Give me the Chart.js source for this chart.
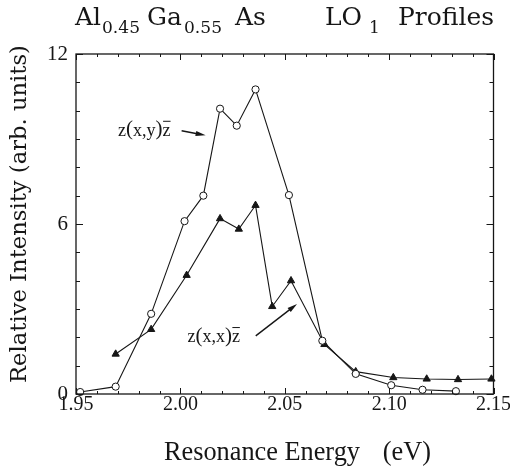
<!DOCTYPE html>
<html>
<head>
<meta charset="utf-8">
<script src="https://cdn.jsdelivr.net/npm/chart.js@4/dist/chart.umd.min.js"></script>
<style>
  html, body { margin: 0; padding: 0; background: #fff; }
  #wrap { width: 510px; height: 467px; }
</style>
</head>
<body>
<div id="wrap"><canvas id="c" width="510" height="467"></canvas></div>
<script>
// Resonance profiles of the LO1 phonon in Al0.45Ga0.55As
const xyEnergy    = [1.952, 1.969, 1.986, 2.002, 2.011, 2.019, 2.027, 2.036, 2.052, 2.068, 2.084, 2.101, 2.116, 2.132];
const xyIntensity = [0.07, 0.26, 2.83, 6.10, 7.00, 10.07, 9.47, 10.75, 7.02, 1.88, 0.71, 0.31, 0.15, 0.10];

const xxEnergy    = [1.969, 1.986, 2.003, 2.019, 2.028, 2.036, 2.044, 2.053, 2.069, 2.084, 2.102, 2.118, 2.133, 2.149];
const xxIntensity = [1.41, 2.28, 4.19, 6.19, 5.82, 6.66, 3.09, 4.00, 1.75, 0.79, 0.58, 0.53, 0.51, 0.53];

const xRange = [1.95, 2.15];
const yRange = [0, 12];
const xMajorStep = 0.05, xMinorStep = 0.01;
const yMajorStep = 6, yMinorStep = 1;

const INK = '#161616';
const SLAB = '"DejaVu Serif", serif';
const ROMAN = '"Liberation Serif", serif';
const toPoints = (xs, ys) => xs.map((x, i) => ({ x: x, y: ys[i] }));

// font size (px) at which a string spans the given width
function fitSize(ctx, text, family, width) {
  ctx.font = '20px ' + family;
  return 20 * width / ctx.measureText(text).width;
}
const fontOf = (size, family) => size.toFixed(2) + 'px ' + family;

// Frame, inward ticks on all four sides, titles and annotations
const decorations = {
  id: 'decorations',
  afterDraw(chart) {
    const ctx = chart.ctx;
    const a = chart.chartArea;
    const xs = chart.scales.x, ys = chart.scales.y;
    ctx.save();
    ctx.strokeStyle = INK;
    ctx.fillStyle = INK;

    // frame
    ctx.lineWidth = 1.3;
    ctx.strokeRect(a.left, a.top, a.right - a.left, a.bottom - a.top);

    // x ticks
    ctx.lineWidth = 1;
    const nx = Math.round((xRange[1] - xRange[0]) / xMinorStep);
    for (let i = 0; i <= nx; i++) {
      const v = xRange[0] + i * xMinorStep;
      const px = Math.round(xs.getPixelForValue(v)) + 0.5;
      const major = i % Math.round(xMajorStep / xMinorStep) === 0;
      const len = major ? 6 : 3;
      ctx.beginPath();
      ctx.moveTo(px, a.bottom); ctx.lineTo(px, a.bottom - len);
      ctx.moveTo(px, a.top); ctx.lineTo(px, a.top + len);
      ctx.stroke();
    }
    // y ticks
    const ny = Math.round((yRange[1] - yRange[0]) / yMinorStep);
    for (let i = 0; i <= ny; i++) {
      const v = yRange[0] + i * yMinorStep;
      const py = Math.round(ys.getPixelForValue(v)) + 0.5;
      const major = i % Math.round(yMajorStep / yMinorStep) === 0;
      const len = major ? 7 : 4;
      ctx.beginPath();
      ctx.moveTo(a.left, py); ctx.lineTo(a.left + len, py);
      ctx.moveTo(a.right, py); ctx.lineTo(a.right - len, py);
      ctx.stroke();
    }

    // title with subscripts
    const big = fontOf(fitSize(ctx, 'Profiles', SLAB, 96), SLAB);
    const sub = fontOf(fitSize(ctx, '0.45', SLAB, 38), SLAB);
    ctx.textBaseline = 'alphabetic';
    ctx.textAlign = 'left';
    const titleParts = [
      ['Al', big, 75, 25], ['0.45', sub, 102, 33],
      ['Ga', big, 147, 25], ['0.55', sub, 184, 33],
      ['As', big, 235, 25],
      ['LO', big, 325, 25], ['1', sub, 369, 33],
      ['Profiles', big, 398, 25]
    ];
    titleParts.forEach(([t, f, x, y]) => { ctx.font = f; ctx.fillText(t, x, y); });

    // y-axis title
    ctx.save();
    const yTitle = 'Relative Intensity (arb. units)';
    ctx.font = fontOf(fitSize(ctx, yTitle, SLAB, 338), SLAB);
    ctx.translate(20, 214);
    ctx.rotate(-Math.PI / 2);
    ctx.textAlign = 'center';
    ctx.textBaseline = 'middle';
    ctx.fillText(yTitle, 0, 0);
    ctx.restore();

    // x-axis title
    ctx.font = fontOf(fitSize(ctx, 'Resonance Energy', ROMAN, 196), ROMAN);
    ctx.textBaseline = 'alphabetic';
    ctx.textAlign = 'left';
    ctx.fillText('Resonance Energy', 164, 460);
    ctx.textAlign = 'right';
    ctx.fillText('(eV)', 431, 460);

    // annotations: polarisation labels with arrows
    const label = (inner, xr, yv) => {
      const px = xs.getPixelForValue(xr), py = ys.getPixelForValue(yv);
      ctx.textBaseline = 'middle';
      ctx.textAlign = 'left';
      const parts = ['z', '(', inner, ')', 'z'];
      const fonts = ['18px ' + ROMAN, '21px ' + ROMAN, '18px ' + ROMAN, '21px ' + ROMAN, '18px ' + ROMAN];
      let total = 0;
      parts.forEach((p, i) => { ctx.font = fonts[i]; total += ctx.measureText(p).width; });
      let x = px - total;
      parts.forEach((p, i) => {
        ctx.font = fonts[i];
        const pw = ctx.measureText(p).width;
        ctx.fillText(p, x, py + (i === 1 || i === 3 ? -1 : 0));
        if (i === 4) {
          ctx.lineWidth = 1;
          ctx.beginPath();
          ctx.moveTo(x + 0.5, py - 9.5); ctx.lineTo(x + pw, py - 9.5);
          ctx.stroke();
        }
        x += pw;
      });
    };
    const arrow = (x0, y0, x1, y1) => {
      const p0 = [xs.getPixelForValue(x0), ys.getPixelForValue(y0)];
      const p1 = [xs.getPixelForValue(x1), ys.getPixelForValue(y1)];
      const ang = Math.atan2(p1[1] - p0[1], p1[0] - p0[0]);
      const hl = 10, hw = 2.6;
      ctx.lineWidth = 1.4;
      ctx.beginPath();
      ctx.moveTo(p0[0], p0[1]);
      ctx.lineTo(p1[0] - hl * 0.6 * Math.cos(ang), p1[1] - hl * 0.6 * Math.sin(ang));
      ctx.stroke();
      ctx.beginPath();
      ctx.moveTo(p1[0], p1[1]);
      ctx.lineTo(p1[0] - hl * Math.cos(ang) - hw * Math.sin(ang), p1[1] - hl * Math.sin(ang) + hw * Math.cos(ang));
      ctx.lineTo(p1[0] - hl * Math.cos(ang) + hw * Math.sin(ang), p1[1] - hl * Math.sin(ang) - hw * Math.cos(ang));
      ctx.closePath();
      ctx.fill();
    };
    label('x,y', 1.9953, 9.29);
    arrow(2.0006, 9.29, 2.0121, 9.13);
    label('x,x', 2.0285, 2.01);
    arrow(2.0361, 2.05, 2.0559, 3.18);

    ctx.restore();
  }
};

function drawChart() {
  new Chart(document.getElementById('c'), {
    type: 'line',
    data: {
      datasets: [
        {
          label: 'z(x,y)z',
          data: toPoints(xyEnergy, xyIntensity),
          borderColor: INK,
          borderWidth: 1.1,
          pointStyle: 'circle',
          pointRadius: 3.6,
          pointBorderWidth: 1,
          pointBackgroundColor: '#fff',
          pointBorderColor: INK,
          tension: 0,
          clip: false
        },
        {
          label: 'z(x,x)z',
          data: toPoints(xxEnergy, xxIntensity),
          borderColor: INK,
          borderWidth: 1.1,
          pointStyle: 'triangle',
          pointRadius: 4.2,
          pointBorderWidth: 1,
          pointBackgroundColor: INK,
          pointBorderColor: INK,
          tension: 0,
          clip: false
        }
      ]
    },
    options: {
      responsive: false,
      animation: false,
      devicePixelRatio: 1,
      layout: { padding: { top: 54, right: 16, left: 0, bottom: 0 } },
      plugins: { legend: { display: false }, tooltip: { enabled: false } },
      scales: {
        x: {
          type: 'linear',
          min: xRange[0], max: xRange[1],
          grid: { display: false, drawTicks: false },
          border: { display: false },
          ticks: {
            stepSize: xMajorStep,
            color: INK,
            padding: -1,
            font: { family: ROMAN, size: 20 },
            callback: v => Number(v).toFixed(2)
          },
          afterFit: s => { s.height = 73; }
        },
        y: {
          min: yRange[0], max: yRange[1],
          grid: { display: false, drawTicks: false },
          border: { display: false },
          ticks: {
            stepSize: yMajorStep,
            color: INK,
            padding: 8,
            font: { family: ROMAN, size: 21 }
          },
          afterFit: s => { s.width = 76; }
        }
      }
    },
    plugins: [decorations]
  });
}

// make sure the canvas fonts are ready before the first paint
const fontLoads = ['20px ' + SLAB, '16px ' + SLAB, '20px ' + ROMAN].map(f =>
  (document.fonts && document.fonts.load) ? document.fonts.load(f) : Promise.resolve());
Promise.all(fontLoads).then(drawChart, drawChart);
</script>
</body>
</html>
